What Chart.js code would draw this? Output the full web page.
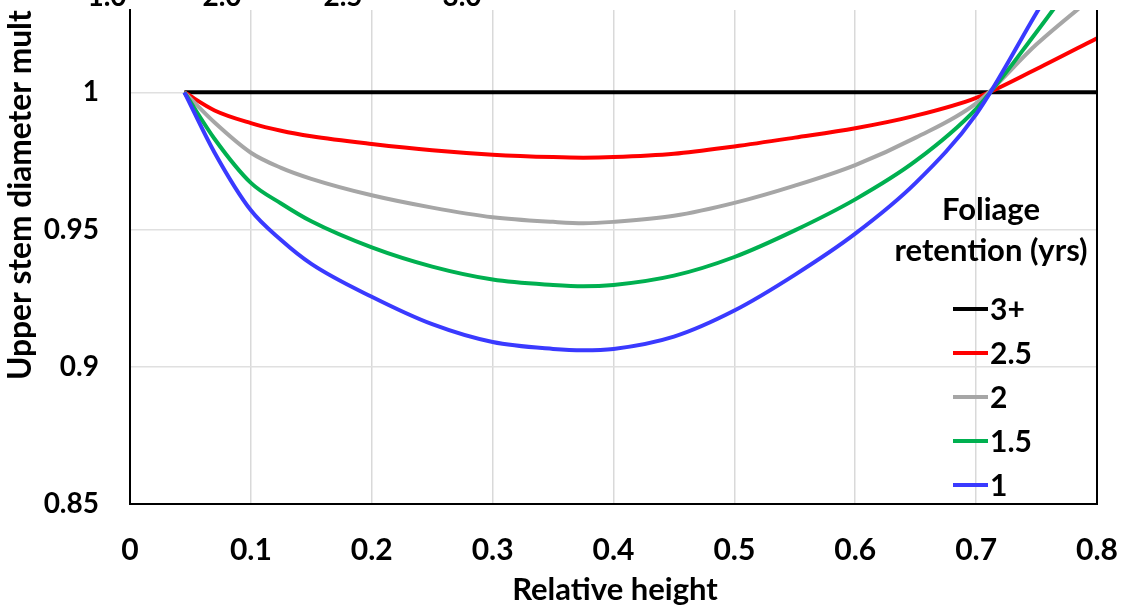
<!DOCTYPE html>
<html><head><meta charset="utf-8">
<script src="https://cdn.jsdelivr.net/npm/chart.js@4.4.1/dist/chart.umd.min.js"></script>
<style>html,body{margin:0;padding:0;background:#fff;overflow:hidden}</style>
</head><body>
<canvas id="c" width="1123" height="609"></canvas>
<script>
// ---- data ----
const relHeight = [0.045,0.07,0.1,0.125,0.15,0.2,0.25,0.3,0.35,0.375,0.4,0.45,0.5,0.55,0.6,0.65,0.7,0.75,0.8];
const ret3plus  = [1,1,1,1,1,1,1,1,1,1,1,1,1,1,1,1,1,1,1];
const ret2_5    = [1,0.9934,0.9888,0.986,0.984,0.9812,0.9789,0.9773,0.9764,0.9762,0.9764,0.9776,0.9803,0.9835,0.9869,0.9915,0.998,1.0085,1.0197];
const ret2      = [1,0.989,0.978,0.9725,0.9685,0.9625,0.958,0.9545,0.9528,0.9523,0.9528,0.955,0.9597,0.966,0.9735,0.9835,0.996,1.0175,1.036];
const ret1_5    = [1,0.983,0.967,0.9595,0.953,0.9435,0.9365,0.9318,0.9298,0.9293,0.9298,0.9332,0.94,0.9497,0.961,0.975,0.994,1.022,1.052];
const ret1      = [1,0.978,0.957,0.9462,0.9375,0.9255,0.9155,0.909,0.9065,0.906,0.9065,0.911,0.9205,0.9335,0.9485,0.967,0.992,1.029,1.066];
const seriesLabels = ["3+","2.5","2","1.5","1"];
const xTickValues = [0,0.1,0.2,0.3,0.4,0.5,0.6,0.7,0.8];
const xTickLabels = ["0","0.1","0.2","0.3","0.4","0.5","0.6","0.7","0.8"];
const yTickValues = [0.85,0.9,0.95,1];
const yTickLabels = ["0.85","0.9","0.95","1"];
const topStripLabels = ["1.0","2.0","2.5","3.0"];
const xTitle = "Relative height";
const yTitle = "Upper stem diameter mult";
const legendTitle = ["Foliage","retention (yrs)"];

const colors = ["#000000","#ff0000","#a6a6a6","#00b050","#3a3aff"];
const seriesValues = [ret3plus, ret2_5, ret2, ret1_5, ret1];

const FONT = "Lato, 'Open Sans', sans-serif";

const datasets = seriesValues.map((arr,i)=>({
  label: seriesLabels[i],
  data: relHeight.map((x,j)=>({x:x,y:arr[j]})),
  borderColor: colors[i],
  backgroundColor: colors[i],
  borderWidth: 4,
  pointRadius: 0,
  cubicInterpolationMode: 'monotone',
  fill: false,
  clip: 0
})).reverse(); // black drawn last (on top)

const decor = {
  id:'decor',
  afterDraw(chart){
    const ctx = chart.ctx, a = chart.chartArea;
    ctx.save();
    // right border
    ctx.strokeStyle = '#000'; ctx.lineWidth = 2;
    ctx.beginPath(); ctx.moveTo(a.right, a.top); ctx.lineTo(a.right, a.bottom+1); ctx.stroke();
    // x title
    ctx.fillStyle = '#000';
    ctx.font = "bold 31px " + FONT;
    ctx.textAlign = 'center'; ctx.textBaseline = 'middle';
    ctx.fillText(xTitle, 615, 590);
    // y title
    ctx.save();
    ctx.translate(31, 380);
    ctx.rotate(-Math.PI/2);
    ctx.textAlign = 'left'; ctx.textBaseline = 'alphabetic';
    let fs = 27;
    ctx.font = "bold " + fs + "px " + FONT;
    const w = ctx.measureText(yTitle).width;
    fs = fs * 370 / w;
    ctx.font = "bold " + fs.toFixed(1) + "px " + FONT;
    ctx.fillText(yTitle, 0, 0);
    ctx.restore();
    // partial strip at top
    ctx.font = "bold 28px " + FONT;
    ctx.textAlign = 'center'; ctx.textBaseline = 'alphabetic';
    const stripX = [107,222,343,462];
    topStripLabels.forEach((t,i)=>ctx.fillText(t, stripX[i], 6));
    // legend
    const lx = 991;
    ctx.font = "bold 31px " + FONT;
    ctx.textAlign = 'center'; ctx.textBaseline = 'middle';
    ctx.fillText(legendTitle[0], lx, 210);
    ctx.fillText(legendTitle[1], lx, 251);
    const order = chart.data.datasets.slice().reverse();
    ctx.textAlign = 'left';
    ctx.font = "bold 30px " + FONT;
    order.forEach((ds,i)=>{
      const y = 309 + i*44;
      ctx.strokeStyle = ds.borderColor; ctx.lineWidth = 4;
      ctx.beginPath(); ctx.moveTo(953, y); ctx.lineTo(988, y); ctx.stroke();
      ctx.fillStyle = '#000';
      ctx.fillText(ds.label, 990, y+1);
    });
    ctx.restore();
  }
};

new Chart(document.getElementById('c'), {
  type: 'line',
  data: { datasets: datasets },
  options: {
    responsive: false,
    animation: false,
    devicePixelRatio: 1,
    layout: { padding: { top: 10, right: 26, left: 0, bottom: 0 } },
    plugins: { legend: { display: false }, tooltip: { enabled: false } },
    scales: {
      x: {
        type: 'linear', min: 0, max: 0.8,
        afterBuildTicks: s => { s.ticks = xTickValues.map(v=>({value:v})); },
        afterFit: s => { s.height = 105; s.paddingLeft = 0; s.paddingRight = 0; },
        ticks: {
          callback: (v,i) => xTickLabels[i],
          font: { family: FONT, size: 30, weight: 'bold' },
          color: '#000', padding: 28, maxRotation: 0, autoSkip: false
        },
        grid: {
          color: (c) => (c.index === 0 || c.index === xTickValues.length-1) ? 'rgba(0,0,0,0)' : '#d9d9d9',
          lineWidth: 1.5, drawTicks: false
        },
        border: { display: true, color: '#000', width: 2 }
      },
      y: {
        type: 'linear', min: 0.85, max: 1.03,
        afterBuildTicks: s => { s.ticks = yTickValues.map(v=>({value:v})); },
        afterFit: s => { s.width = 130; s.paddingTop = 0; s.paddingBottom = 0; },
        ticks: {
          callback: (v,i) => yTickLabels[i],
          font: { family: FONT, size: 28, weight: 'bold' },
          color: '#000', padding: 31
        },
        grid: {
          color: (c) => c.index === 0 ? 'rgba(0,0,0,0)' : '#e0e0e0',
          lineWidth: 1.5, drawTicks: false
        },
        border: { display: true, color: '#000', width: 2 }
      }
    }
  },
  plugins: [decor]
});
</script>
</body></html>
